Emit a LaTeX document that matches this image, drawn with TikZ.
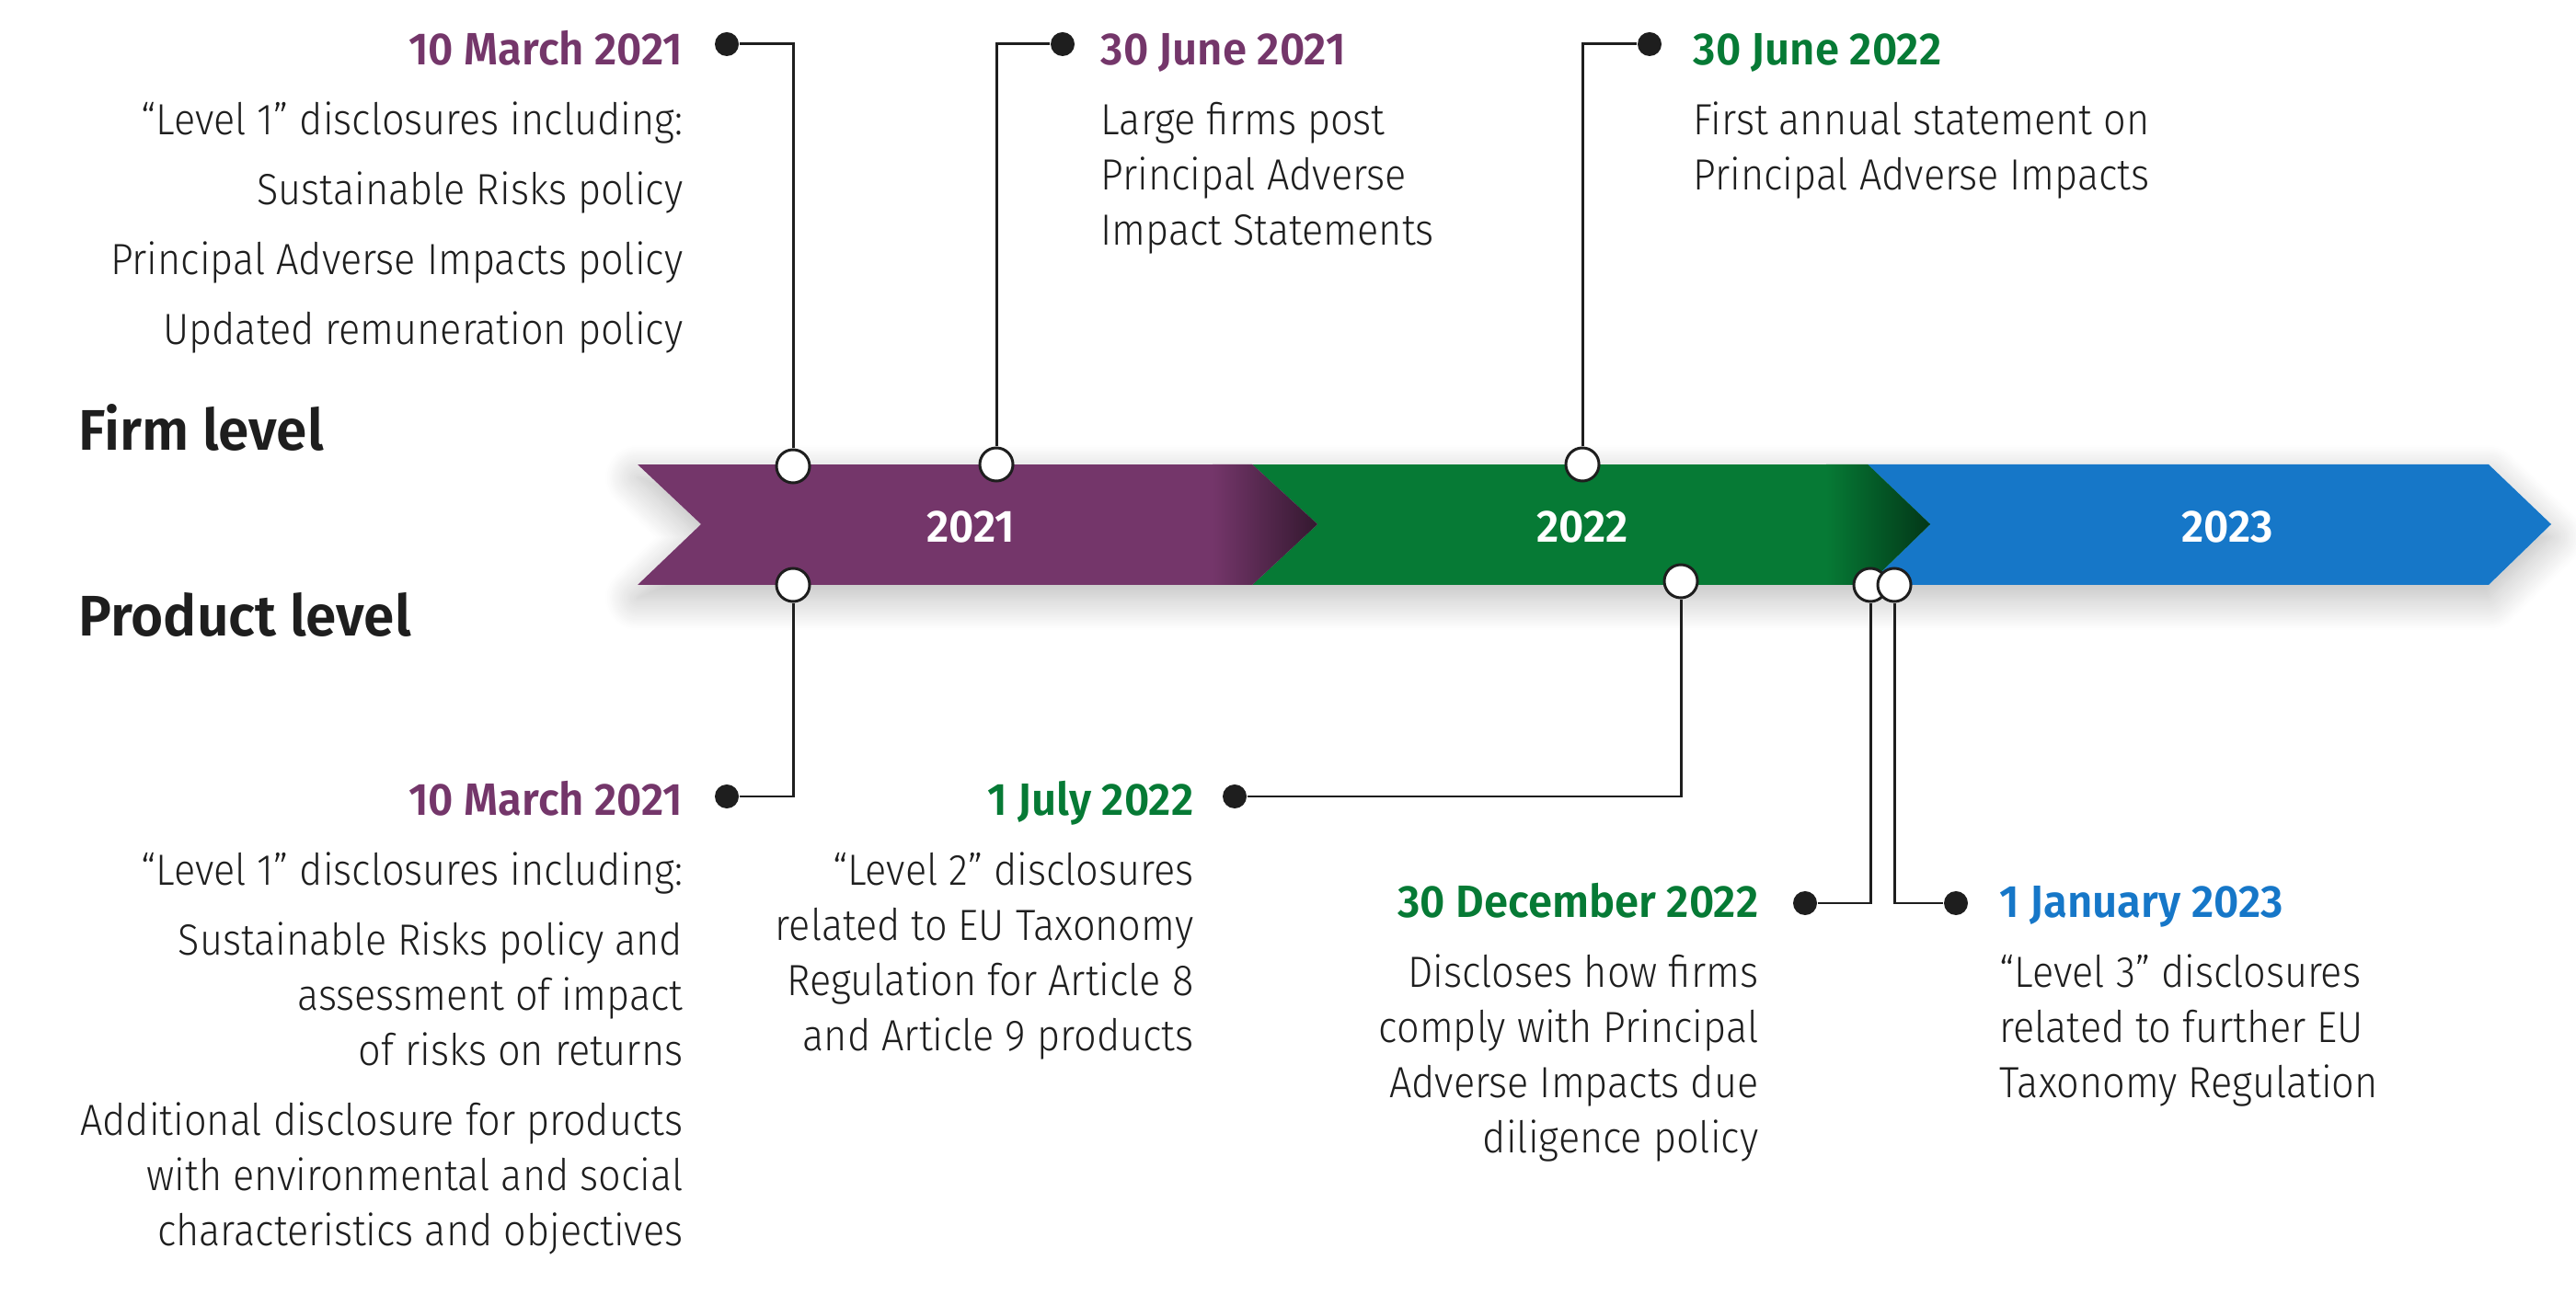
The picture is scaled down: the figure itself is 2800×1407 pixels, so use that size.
\documentclass[tikz,border=0pt]{standalone}
\usepackage{fontspec}
\usepackage{xcolor}
\usepackage{tikz}
\usetikzlibrary{shadows.blur,positioning}
\newfontfamily\bodyfont{Fira Sans Light}[FakeStretch=0.91]
\newfontfamily\datefont{Fira Sans SemiBold}[FakeStretch=0.96]
\newfontfamily\headfont{Fira Sans SemiBold}[FakeStretch=0.97]
\definecolor{sfdrpurple}{HTML}{74366A}
\definecolor{sfdrgreen}{HTML}{067A35}
\definecolor{sfdrblue}{HTML}{1677C8}
\definecolor{inkgray}{HTML}{1E1E1E}
\newcommand{\evtitle}[2]{{\datefont\fontsize{14pt}{17.07pt}\selectfont\color{#1}\rule{0pt}{11pt}#2}}
\newcommand{\gap}{4.55pt}
\tikzset{
  knob/.style={circle,draw=inkgray,fill=white,line width=0.85pt,minimum size=0.36cm,inner sep=0pt},
  bullet/.style={circle,fill=inkgray,minimum size=0.26cm,inner sep=0pt},
  link/.style={draw=inkgray,line width=0.85pt},
  evtext/.style={font=\bodyfont\fontsize{13.5pt}{17.07pt}\selectfont,text=inkgray,inner sep=0pt},
  yeartext/.style={font=\datefont\fontsize{14pt}{16pt}\selectfont,text=white,inner sep=0pt},
  headtext/.style={font=\headfont\fontsize{17.7pt}{20pt}\selectfont,text=inkgray,inner sep=0pt}
}
\begin{document}
\begin{tikzpicture}[x=0.01cm,y=-0.01cm]
\useasboundingbox (0,0) rectangle (2800,1407);
% banner with soft shadow
\fill[white,blur shadow={shadow xshift=0pt,shadow yshift=-4pt,shadow blur radius=10pt,shadow blur steps=20,shadow opacity=28}]
  (693,505) -- (2705,505) -- (2773,570) -- (2705,636) -- (693,636) -- (762,570) -- cycle;
\fill[sfdrblue] (2030,505) -- (2705,505) -- (2773,570) -- (2705,636) -- (2030,636) -- (2098,570) -- cycle;
\begin{scope}
  \clip (1361,505) -- (2030,505) -- (2098,570) -- (2030,636) -- (1361,636) -- (1432,570) -- cycle;
  \fill[sfdrgreen] (1300,505) rectangle (2100,636);
  \shade[left color=sfdrgreen,right color=sfdrgreen!45!black] (1985,505) rectangle (2098,636);
\end{scope}
\begin{scope}
  \clip (693,505) -- (1361,505) -- (1432,570) -- (1361,636) -- (693,636) -- (762,570) -- cycle;
  \fill[sfdrpurple] (690,505) rectangle (1435,636);
  \shade[left color=sfdrpurple,right color=sfdrpurple!45!black] (1318,505) rectangle (1432,636);
\end{scope}
\node[yeartext] (y2021) at (1055,573) {2021};
\node[yeartext] (y2022) at (1720,573) {2022};
\node[yeartext] (y2023) at (2421,573) {2023};

% row labels
\node[headtext,anchor=base west] (firm) at (85,490) {Firm level};
\node[headtext,anchor=base west] (product) at (85,692) {Product level};

% firm level events
\node[evtext,align=right,anchor=north east] (fmar21) at (743,31.3)
  {\evtitle{sfdrpurple}{10 March 2021}\\[\gap]
   “Level 1” disclosures including:\\[\gap]
   Sustainable Risks policy\\[\gap]
   Principal Adverse Impacts policy\\[\gap]
   Updated remuneration policy};
\node[evtext,align=left,anchor=north west] (fjun21) at (1196,31.3)
  {\evtitle{sfdrpurple}{30 June 2021}\\[\gap]
   Large firms post\\
   Principal Adverse\\
   Impact Statements};
\node[evtext,align=left,anchor=north west] (fjun22) at (1840,31.3)
  {\evtitle{sfdrgreen}{30 June 2022}\\[\gap]
   First annual statement on\\
   Principal Adverse Impacts};

% product level events
\node[evtext,align=right,anchor=north east] (pmar21) at (743,847.3)
  {\evtitle{sfdrpurple}{10 March 2021}\\[\gap]
   “Level 1” disclosures including:\\[\gap]
   Sustainable Risks policy and\\
   assessment of impact\\
   of risks on returns\\[\gap]
   Additional disclosure for products\\
   with environmental and social\\
   characteristics and objectives};
\node[evtext,align=right,anchor=north east] (pjul22) at (1298,847.3)
  {\evtitle{sfdrgreen}{1 July 2022}\\[\gap]
   “Level 2” disclosures\\
   related to EU Taxonomy\\
   Regulation for Article 8\\
   and Article 9 products};
\node[evtext,align=right,anchor=north east] (pdec22) at (1912,958.3)
  {\evtitle{sfdrgreen}{30 December 2022}\\[\gap]
   Discloses how firms\\
   comply with Principal\\
   Adverse Impacts due\\
   diligence policy};
\node[evtext,align=left,anchor=north west] (pjan23) at (2173,958.3)
  {\evtitle{sfdrblue}{1 January 2023}\\[\gap]
   “Level 3” disclosures\\
   related to further EU\\
   Taxonomy Regulation};

% markers on the banner
\node[knob] (fmar21pin) at (862,507) {};
\node[knob] (fjun21pin) at (1083,505) {};
\node[knob] (fjun22pin) at (1720,505) {};
\node[knob] (pmar21pin) at (862,636) {};
\node[knob] (pjul22pin) at (1827,632) {};
\node[knob] (pdec22pin) at (2033,636) {};
\node[knob] (pjan23pin) at (2059,636) {};

% bullets beside the dates
\node[bullet] (fmar21dot) at (790,48) {};
\node[bullet] (fjun21dot) at (1155,48) {};
\node[bullet] (fjun22dot) at (1793,48) {};
\node[bullet] (pmar21dot) at (790,866) {};
\node[bullet] (pjul22dot) at (1342,866) {};
\node[bullet] (pdec22dot) at (1962,982) {};
\node[bullet] (pjan23dot) at (2126,982) {};

\draw[link] (fmar21dot) -| (fmar21pin);
\draw[link] (fjun21dot) -| (fjun21pin);
\draw[link] (fjun22dot) -| (fjun22pin);
\draw[link] (pmar21dot) -| (pmar21pin);
\draw[link] (pjul22dot) -| (pjul22pin);
\draw[link] (pdec22dot) -| (pdec22pin);
\draw[link] (pjan23dot) -| (pjan23pin);
\end{tikzpicture}
\end{document}
